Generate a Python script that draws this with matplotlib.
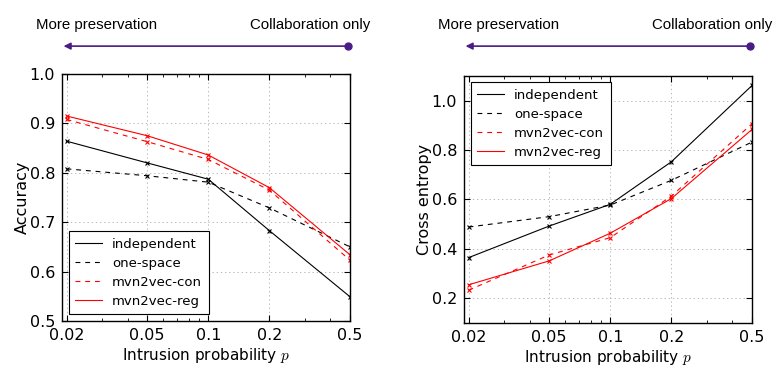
import matplotlib
matplotlib.use("Agg")
import matplotlib.pyplot as plt
from matplotlib.lines import Line2D
from matplotlib.ticker import FixedLocator, FixedFormatter, NullFormatter, LogLocator

# intrusion probabilities
p_values = [0.02, 0.05, 0.1, 0.2, 0.5]
p_labels = ["0.02", "0.05", "0.1", "0.2", "0.5"]

# accuracy (left panel)
acc_independent = [0.864, 0.820, 0.787, 0.683, 0.549]
acc_one_space = [0.808, 0.794, 0.781, 0.729, 0.650]
acc_mvn2vec_con = [0.908, 0.863, 0.827, 0.765, 0.623]
acc_mvn2vec_reg = [0.915, 0.875, 0.836, 0.770, 0.634]

# cross entropy (right panel)
ce_independent = [0.364, 0.492, 0.580, 0.752, 1.061]
ce_one_space = [0.488, 0.530, 0.577, 0.677, 0.832]
ce_mvn2vec_con = [0.232, 0.375, 0.445, 0.613, 0.906]
ce_mvn2vec_reg = [0.254, 0.351, 0.463, 0.603, 0.883]

series_names = ["independent", "one-space", "mvn2vec-con", "mvn2vec-reg"]
series_styles = [("black", "-"), ("black", "--"), ("red", "--"), ("red", "-")]

ARROW_COLOR = "#4b1c86"

plt.rcParams["font.family"] = "DejaVu Sans"
plt.rcParams["mathtext.fontset"] = "cm"
plt.rcParams["lines.scale_dashes"] = False
plt.rcParams["lines.dashed_pattern"] = [3.5, 3.5]

fig = plt.figure(figsize=(7.78, 3.75), dpi=100)
ax_left = fig.add_axes([0.0797, 0.144, 0.3702, 0.6587])
ax_right = fig.add_axes([0.5964, 0.139, 0.3702, 0.6587])


def draw_panel(ax, series, ylabel, ylim, yticks, legend_loc):
    for values, name, (color, ls) in zip(series, series_names, series_styles):
        ax.plot(p_values, values, color=color, linestyle=ls, linewidth=0.8, label=name)
        ax.plot(p_values, values, linestyle="none", marker="x", markersize=3.5,
                markeredgewidth=0.8, color=color)
    ax.set_xscale("log")
    ax.set_xlim(0.019, 0.5)
    ax.set_ylim(*ylim)
    ax.xaxis.set_major_locator(FixedLocator(p_values))
    ax.xaxis.set_major_formatter(FixedFormatter(p_labels))
    ax.xaxis.set_minor_locator(LogLocator(base=10, subs=range(2, 10)))
    ax.xaxis.set_minor_formatter(NullFormatter())
    ax.set_yticks(yticks)
    ax.set_yticklabels([f"{t:.1f}" for t in yticks])
    ax.tick_params(which="both", direction="in", top=True, right=True, labelsize=11.5, pad=5)
    ax.tick_params(which="major", length=4)
    ax.tick_params(which="minor", length=2)
    ax.grid(True, which="major", linestyle=(0, (1, 2)), color="#b0b0b0", linewidth=0.6)
    for spine in ax.spines.values():
        spine.set_linewidth(1.0)
    ax.set_xlabel("Intrusion probability $p$", fontsize=11, labelpad=2)
    ax.set_ylabel(ylabel, fontsize=11.5, labelpad=0)
    leg = ax.legend(loc=legend_loc, fontsize=9.5, fancybox=False, framealpha=1,
                    edgecolor="black", handlelength=2.0, borderpad=0.5, labelspacing=0.45)
    leg.get_frame().set_linewidth(0.8)

    # direction indicator above the axes
    pos = ax.get_position()
    y_arrow = 0.877
    ax.annotate("", xy=(pos.x0 + 0.002, y_arrow), xytext=(pos.x1 - 0.002, y_arrow),
                xycoords="figure fraction", textcoords="figure fraction",
                arrowprops=dict(arrowstyle="-|>", color=ARROW_COLOR, lw=1.2,
                                mutation_scale=10, shrinkA=0, shrinkB=0))
    fig.add_artist(Line2D([pos.x1 - 0.002], [y_arrow], transform=fig.transFigure,
                          marker="o", markersize=5, color=ARROW_COLOR))
    fig.text(pos.x0 - 0.033, 0.932, "More preservation", ha="left", va="center",
             fontsize=10.8, family="Liberation Sans")
    fig.text(pos.x1 + 0.026, 0.932, "Collaboration only", ha="right", va="center",
             fontsize=10.8, family="Liberation Sans")


draw_panel(ax_left, [acc_independent, acc_one_space, acc_mvn2vec_con, acc_mvn2vec_reg],
           "Accuracy", (0.5, 1.0), [0.5, 0.6, 0.7, 0.8, 0.9, 1.0], "lower left")
draw_panel(ax_right, [ce_independent, ce_one_space, ce_mvn2vec_con, ce_mvn2vec_reg],
           "Cross entropy", (0.1, 1.1), [0.2, 0.4, 0.6, 0.8, 1.0], "upper left")

fig.savefig("out.png", dpi=100)
